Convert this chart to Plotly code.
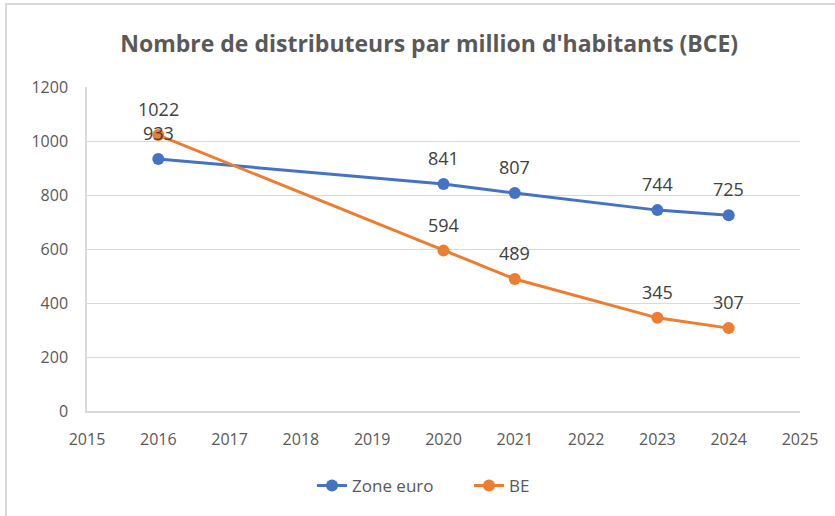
import plotly.graph_objects as go

years_ze = [2016, 2020, 2021, 2023, 2024]
zone_euro = [933, 841, 807, 744, 725]
years_be = [2016, 2020, 2021, 2023, 2024]
be = [1022, 594, 489, 345, 307]

title = "Nombre de distributeurs par million d'habitants (BCE)"
font_family = "Open Sans"

fig = go.Figure()
fig.add_trace(go.Scatter(
    x=years_ze, y=zone_euro, name="Zone euro", mode="lines+markers",
    line=dict(color="#4472C4", width=3), marker=dict(size=12, color="#4472C4"),
))
fig.add_trace(go.Scatter(
    x=years_be, y=be, name="BE", mode="lines+markers",
    line=dict(color="#ED7D31", width=3), marker=dict(size=12, color="#ED7D31"),
))

annotations = []
for xs, ys in ((years_ze, zone_euro), (years_be, be)):
    for xv, yv in zip(xs, ys):
        annotations.append(dict(x=xv, y=yv, xref="x", yref="y", text=str(yv), showarrow=False,
                                yanchor="middle", xanchor="center", yshift=26,
                                font=dict(size=18, color="#404040", family=font_family)))

fig.update_layout(
    width=835, height=516,
    margin=dict(l=87, r=35, t=87, b=105),
    paper_bgcolor="white", plot_bgcolor="white",
    font=dict(family=font_family, color="#595959", size=16),
    title=dict(text="<b>" + title + "</b>", x=0.514, xanchor="center", y=0.915, yanchor="middle",
               font=dict(size=23, color="#595959", family=font_family)),
    showlegend=True,
    legend=dict(orientation="h", x=0.3156, xanchor="left", y=-0.231, yanchor="middle",
                entrywidth=112, font=dict(size=17, color="#595959")),
    annotations=annotations,
    xaxis=dict(range=[2015, 2025], dtick=1, tick0=2015, showgrid=False,
               showline=True, linecolor="#d9d9d9", linewidth=1.5, zeroline=False,
               ticks="outside", ticklen=13, tickcolor="rgba(0,0,0,0)",
               tickfont=dict(size=16, color="#595959")),
    yaxis=dict(range=[0, 1200], dtick=200, showgrid=True, gridcolor="#d9d9d9", gridwidth=1,
               showline=True, linecolor="#d9d9d9", linewidth=1.5, zeroline=False,
               ticks="outside", ticklen=14, tickcolor="rgba(0,0,0,0)",
               tickfont=dict(size=16, color="#595959")),
    shapes=[dict(type="rect", xref="paper", yref="paper",
                 x0=-0.1136, x1=1.06, y0=-0.36, y1=1.256,
                 line=dict(color="#d9d9d9", width=2), fillcolor="rgba(0,0,0,0)", layer="below")],
)
fig.update_xaxes(automargin=False)
fig.update_yaxes(automargin=False)

fig.write_html("out.html", config={"displayModeBar": False},
               post_script="document.body.style.margin='0';")
